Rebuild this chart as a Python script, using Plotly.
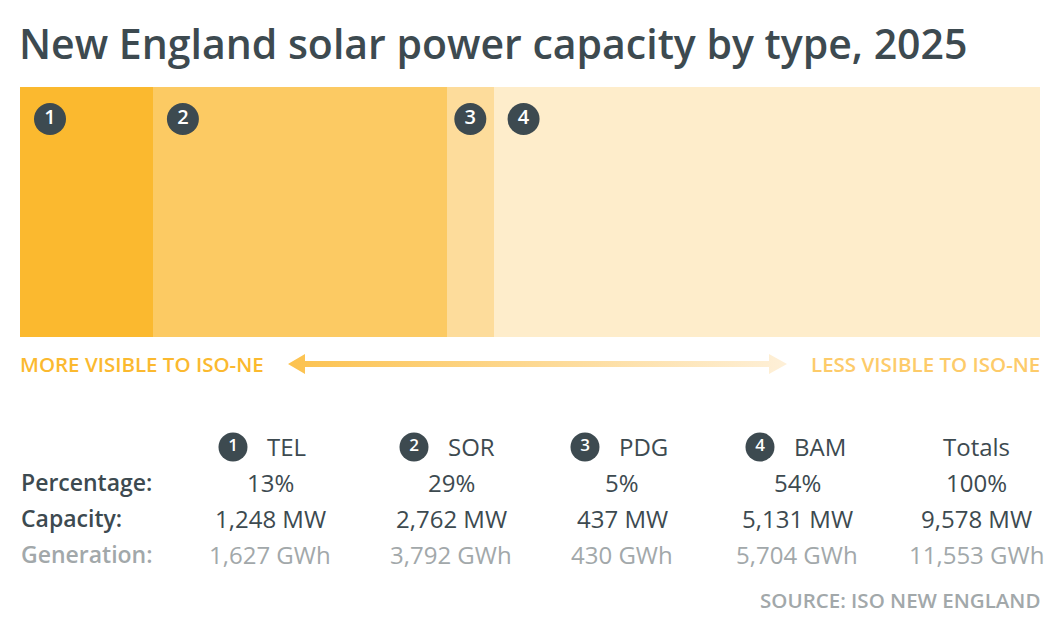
import plotly.graph_objects as go

# solar capacity by type (ISO New England, 2025)
types = ["TEL", "SOR", "PDG", "BAM"]
badges = ["1", "2", "3", "4"]
capacity_mw = [1248, 2762, 437, 5131]
percentage = [13, 29, 5, 54]
generation_gwh = [1627, 3792, 430, 5704]
total_pct = 100
total_capacity = sum(capacity_mw)
total_generation = sum(generation_gwh)

colors = ["#FBB92F", "#FCCA63", "#FDDC9B", "#FEEDCB"]
DARK = "#3D4A50"
GRAY = "#A2A8AA"
FONT = "Open Sans"
W, H = 1060, 637


def px(x):
    return x / W


def py(y):
    return 1 - y / H


fig = go.Figure()

# stacked horizontal bar (pixel 20..1040 x 87..337)
for t, c, col in zip(types, capacity_mw, colors):
    fig.add_trace(
        go.Bar(
            x=[c],
            y=[0],
            orientation="h",
            marker=dict(color=col, line=dict(width=0)),
            xaxis="x2",
            yaxis="y2",
            showlegend=False,
            hoverinfo="skip",
            name=t,
        )
    )

# numbered badges inside the bar
units_per_px = total_capacity / 1020
starts = [sum(capacity_mw[:i]) for i in range(len(capacity_mw))]
badge_x = [s + min(c / 2, 30 * units_per_px) for s, c in zip(starts, capacity_mw)]
fig.add_trace(
    go.Scatter(
        x=badge_x,
        y=[0.372] * len(badge_x),
        mode="markers+text",
        marker=dict(size=32, color=DARK),
        text=badges,
        textposition="middle center",
        textfont=dict(family=FONT, size=20, color="white", weight=600),
        xaxis="x2",
        yaxis="y2",
        showlegend=False,
        hoverinfo="skip",
    )
)

# gradient arrow (overlay axis in pixels)
ax = [288, 305, 305, 769, 769, 787, 769, 769, 305, 305, 288]
ay = [364, 354, 361, 361, 354, 364, 374, 367, 367, 374, 364]
fig.add_trace(
    go.Scatter(
        x=ax,
        y=ay,
        mode="lines",
        fill="toself",
        line=dict(width=0),
        fillgradient=dict(
            type="horizontal",
            colorscale=[[0, "#FCC24E"], [1, "#FEF0D8"]],
        ),
        showlegend=False,
        hoverinfo="skip",
    )
)

# table columns
col_x = [270, 451, 622, 797, 976]
fig.add_trace(
    go.Scatter(
        x=[c - 37 for c in col_x[:4]],
        y=[447] * 4,
        mode="markers+text",
        marker=dict(size=29, color=DARK),
        text=badges,
        textposition="middle center",
        textfont=dict(family=FONT, size=17, color="white", weight=600),
        showlegend=False,
        hoverinfo="skip",
    )
)

annotations = []


def label(text, x, y, size, color, xanchor="center", weight=400, family=FONT):
    annotations.append(
        dict(
            text=text,
            x=px(x),
            y=py(y),
            xref="paper",
            yref="paper",
            xanchor=xanchor,
            yanchor="middle",
            showarrow=False,
            font=dict(family=family, size=size, color=color, weight=weight),
        )
    )


header_x = [c - 5 for c in col_x[:4]]
for t, hx in zip(types, header_x):
    label(t, hx, 446, 24, DARK, xanchor="left")
label("Totals", col_x[4], 446, 24, DARK)

label("Percentage:", 19, 482, 23, DARK, xanchor="left", weight=600)
label("Capacity:", 19, 518, 23, DARK, xanchor="left", weight=600)
label("Generation:", 19, 554, 23, GRAY, xanchor="left", weight=600)

for i in range(4):
    label(f"{percentage[i]}%", col_x[i], 482, 24, DARK)
    label(f"{capacity_mw[i]:,} MW", col_x[i], 518, 24, DARK)
    label(f"{generation_gwh[i]:,} GWh", col_x[i], 554, 24, GRAY)
label(f"{total_pct}%", col_x[4], 482, 24, DARK)
label(f"{total_capacity:,} MW", col_x[4], 518, 24, DARK)
label(f"{total_generation:,} GWh", col_x[4], 554, 24, GRAY)

label("MORE VISIBLE TO ISO-NE", 18, 364, 20.5, "#FBB92F", xanchor="left", weight=600)
label("LESS VISIBLE TO ISO-NE", 1042, 364, 20.5, "#FDCB6A", xanchor="right", weight=600)
label("SOURCE: ISO NEW ENGLAND", 1042, 600, 20.5, GRAY, xanchor="right", weight=600)

fig.update_layout(
    width=W,
    height=H,
    margin=dict(l=0, r=0, t=0, b=0),
    paper_bgcolor="white",
    plot_bgcolor="rgba(0,0,0,0)",
    barmode="stack",
    bargap=0,
    title=dict(
        text="New England solar power capacity by type, 2025",
        x=px(19),
        xanchor="left",
        y=py(45),
        yanchor="middle",
        font=dict(family=FONT, size=41, color=DARK, weight=600),
    ),
    xaxis=dict(range=[0, W], domain=[0, 1], visible=False, fixedrange=True),
    yaxis=dict(range=[H, 0], domain=[0, 1], visible=False, fixedrange=True),
    xaxis2=dict(
        range=[0, total_capacity],
        domain=[px(20), px(1040)],
        visible=False,
        anchor="y2",
    ),
    yaxis2=dict(
        range=[-0.5, 0.5],
        domain=[py(337), py(87)],
        visible=False,
        anchor="x2",
    ),
    annotations=annotations,
)

fig.write_html(
    "out.html",
    config={"displayModeBar": False},
    post_script="document.body.style.margin='0';",
)
